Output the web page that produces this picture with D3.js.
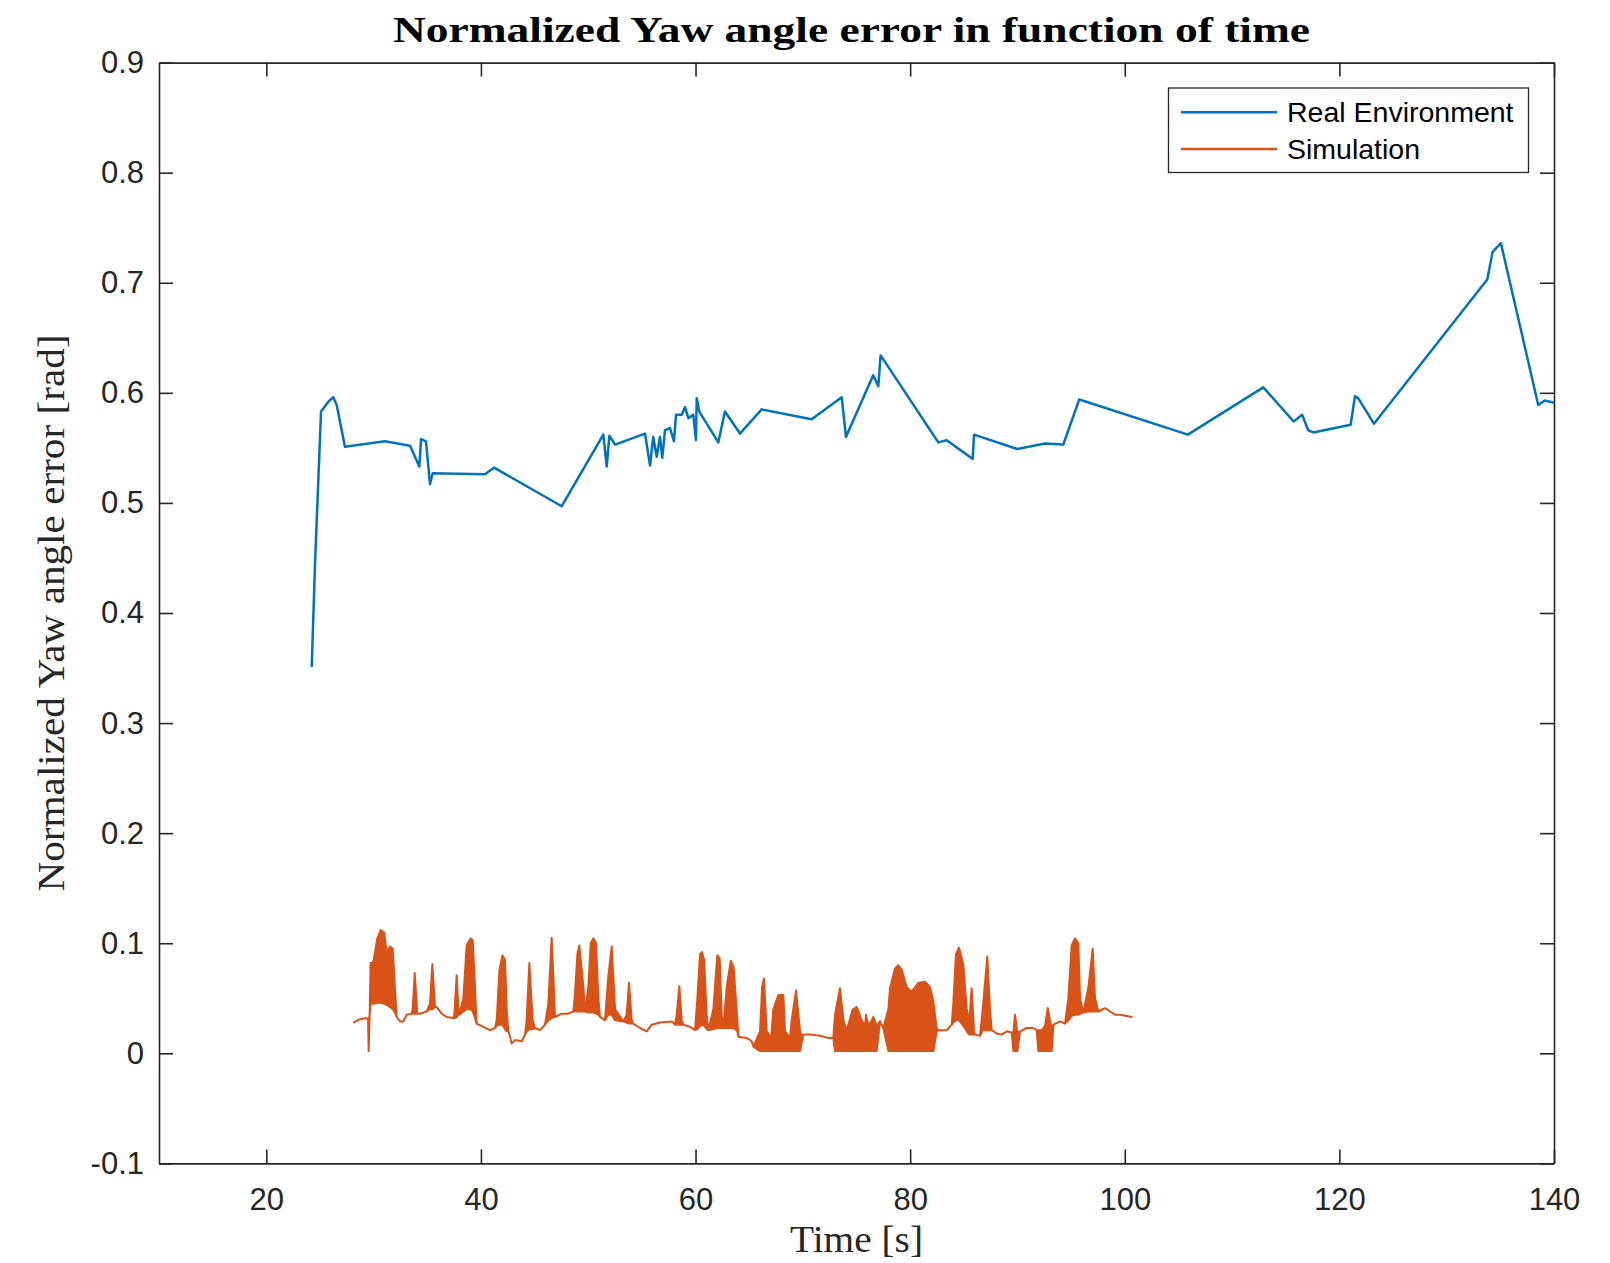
<!DOCTYPE html>
<html>
<head>
<meta charset="utf-8">
<script src="https://cdn.jsdelivr.net/npm/d3@7"></script>
<style>
  body { margin: 0; background: #fff; }
  svg { display: block; }
</style>
</head>
<body>
<svg id="chart"></svg>
<script>
// real run
const realTime = [24.23, 24.54, 25.10, 25.78, 26.24, 26.56, 27.33, 31.06, 33.39, 34.26, 34.42, 34.88, 35.25, 35.50,
  40.38, 41.22, 47.53, 51.41, 51.72, 51.97, 52.50, 55.29, 55.76, 56.06, 56.38, 56.69, 56.90, 57.15, 57.62, 57.99,
  58.18, 58.71, 59.02, 59.33, 59.79, 60.04, 60.11, 60.35, 62.12, 62.74, 64.14, 66.16, 70.82, 73.62, 74.02, 76.56,
  77.03, 77.25, 82.62, 83.40, 85.83, 85.95, 89.98, 92.57, 94.27, 95.76, 105.88, 112.91, 115.74, 116.53, 117.10,
  117.57, 121.05, 121.45, 121.76, 123.22, 133.78, 134.28, 135.05, 138.53, 139.15, 140.00]
const realError = [0.351, 0.445, 0.583, 0.592, 0.596, 0.589, 0.551, 0.556, 0.552, 0.533, 0.558, 0.556, 0.517, 0.527,
  0.526, 0.532, 0.497, 0.562, 0.533, 0.561, 0.553, 0.563, 0.534, 0.560, 0.542, 0.560, 0.541, 0.566, 0.568, 0.556,
  0.580, 0.580, 0.587, 0.577, 0.580, 0.557, 0.595, 0.583, 0.555, 0.583, 0.563, 0.585, 0.576, 0.596, 0.560, 0.616,
  0.606, 0.634, 0.555, 0.557, 0.540, 0.562, 0.549, 0.554, 0.553, 0.594, 0.562, 0.605, 0.574, 0.580, 0.566,
  0.564, 0.571, 0.597, 0.595, 0.572, 0.703, 0.728, 0.736, 0.589, 0.593, 0.591]

// simulation: fast oscillating signal, read as lower / upper envelope
const simTime = [28.17, 28.73, 29.35, 29.48, 29.54, 29.63, 29.72, 29.97, 30.35, 30.66, 30.97, 31.22, 31.53, 31.78,
  31.99, 32.15, 32.46, 32.77, 33.08, 33.55, 33.64, 33.83, 34.07, 34.32, 34.94, 35.25, 35.47, 35.72, 35.88, 36.34,
  36.81, 37.43, 37.52, 37.74, 37.90, 37.99, 38.36, 38.67, 39.04, 39.23, 39.45, 39.60, 40.22, 40.85, 41.31, 41.47,
  41.72, 42.00, 42.24, 42.40, 42.55, 42.87, 43.18, 43.80, 44.11, 44.26, 44.51, 44.82, 45.04, 45.51, 45.97, 46.28,
  46.59, 46.75, 46.90, 47.53, 48.15, 48.61, 48.77, 48.99, 49.17, 49.55, 49.70, 50.01, 50.23, 50.48, 50.73, 50.94,
  51.10, 51.56, 51.87, 52.19, 52.50, 53.27, 53.58, 53.80, 54.05, 54.20, 54.83, 55.45, 55.91, 56.69, 57.78, 58.09,
  58.24, 58.49, 58.71, 58.86, 59.49, 59.95, 60.17, 60.42, 60.60, 60.80, 61.04, 61.19, 61.66, 62.03, 62.25, 62.44,
  62.60, 62.90, 63.28, 63.55, 63.90, 63.99, 64.77, 65.23, 65.39, 66.01, 66.20, 66.38, 66.63, 67.05, 67.25, 67.72,
  68.18, 68.34, 68.80, 68.96, 69.36, 69.74, 69.89, 70.05, 70.67, 71.60, 72.38, 72.84, 73.00, 73.46, 73.78, 74.09,
  74.65, 75.02, 75.48, 75.79, 75.89, 76.11, 76.42, 76.57, 76.88, 77.19, 77.50, 77.97, 78.12, 78.59, 78.90, 79.21,
  79.68, 80.14, 80.76, 81.38, 81.85, 82.16, 82.47, 82.63, 83.40, 83.87, 84.02, 84.27, 84.55, 84.96, 85.27, 85.52,
  85.73, 85.95, 86.04, 86.51, 86.76, 87.19, 87.44, 87.60, 88.06, 88.53, 89.00, 89.46, 89.62, 89.77, 89.99, 90.24,
  90.86, 91.48, 91.79, 91.95, 92.26, 92.57, 92.82, 93.19, 93.35, 93.97, 94.43, 94.74, 95.05, 95.36, 95.67, 95.83,
  96.14, 96.61, 97.01, 97.23, 97.54, 98.16, 98.63, 99.09, 99.56, 100.18, 100.64]
const simLow = [0.028, 0.031, 0.032, 0.030, 0.002, 0.035, 0.045, 0.045, 0.046, 0.046, 0.045, 0.044, 0.042, 0.040,
  0.037, 0.033, 0.029, 0.029, 0.035, 0.036, 0.036, 0.036, 0.036, 0.036, 0.038, 0.040, 0.040, 0.042, 0.042, 0.036,
  0.033, 0.032, 0.032, 0.033, 0.035, 0.035, 0.038, 0.040, 0.040, 0.038, 0.032, 0.027, 0.024, 0.021, 0.023, 0.025,
  0.026, 0.026, 0.022, 0.020, 0.021, 0.009, 0.012, 0.011, 0.017, 0.020, 0.022, 0.022, 0.023, 0.021, 0.026, 0.030,
  0.032, 0.033, 0.033, 0.036, 0.036, 0.038, 0.038, 0.038, 0.038, 0.038, 0.038, 0.037, 0.037, 0.037, 0.036, 0.035,
  0.033, 0.030, 0.035, 0.035, 0.030, 0.029, 0.028, 0.027, 0.027, 0.027, 0.023, 0.020, 0.026, 0.028, 0.029, 0.026,
  0.026, 0.026, 0.026, 0.026, 0.024, 0.021, 0.022, 0.025, 0.026, 0.025, 0.022, 0.021, 0.022, 0.023, 0.023, 0.023,
  0.023, 0.023, 0.023, 0.023, 0.020, 0.015, 0.014, 0.011, 0.006, 0.002, 0.002, 0.002, 0.002, 0.002, 0.002, 0.002,
  0.002, 0.002, 0.002, 0.002, 0.002, 0.002, 0.010, 0.017, 0.017, 0.016, 0.014, 0.014, 0.002, 0.002, 0.002, 0.002,
  0.002, 0.002, 0.002, 0.002, 0.002, 0.002, 0.002, 0.002, 0.002, 0.029, 0.023, 0.002, 0.002, 0.002, 0.002, 0.002,
  0.002, 0.002, 0.002, 0.002, 0.002, 0.002, 0.020, 0.021, 0.021, 0.026, 0.028, 0.030, 0.030, 0.025, 0.020, 0.017,
  0.017, 0.017, 0.017, 0.016, 0.021, 0.021, 0.021, 0.021, 0.018, 0.017, 0.020, 0.019, 0.002, 0.002, 0.002, 0.020,
  0.023, 0.023, 0.021, 0.002, 0.002, 0.002, 0.002, 0.002, 0.026, 0.029, 0.027, 0.030, 0.034, 0.035, 0.035, 0.036,
  0.037, 0.038, 0.038, 0.038, 0.038, 0.041, 0.038, 0.035, 0.035, 0.034, 0.033]
const simHigh = [0.028, 0.031, 0.032, 0.030, 0.030, 0.035, 0.082, 0.083, 0.1045, 0.112, 0.110, 0.092, 0.097, 0.095,
  0.059, 0.033, 0.029, 0.029, 0.035, 0.036, 0.040, 0.073, 0.036, 0.036, 0.038, 0.045, 0.081, 0.042, 0.042, 0.036,
  0.033, 0.032, 0.035, 0.071, 0.040, 0.035, 0.050, 0.098, 0.1045, 0.103, 0.060, 0.027, 0.024, 0.021, 0.023, 0.030,
  0.075, 0.089, 0.085, 0.040, 0.021, 0.009, 0.012, 0.011, 0.017, 0.030, 0.082, 0.030, 0.023, 0.021, 0.026, 0.045,
  0.105, 0.070, 0.033, 0.036, 0.036, 0.038, 0.055, 0.090, 0.098, 0.060, 0.038, 0.060, 0.100, 0.1045, 0.100, 0.050,
  0.033, 0.030, 0.070, 0.097, 0.040, 0.029, 0.035, 0.064, 0.030, 0.027, 0.023, 0.020, 0.026, 0.028, 0.029, 0.026,
  0.035, 0.061, 0.030, 0.026, 0.024, 0.021, 0.050, 0.090, 0.092, 0.085, 0.035, 0.021, 0.040, 0.089, 0.086, 0.035,
  0.023, 0.060, 0.084, 0.078, 0.030, 0.015, 0.014, 0.011, 0.006, 0.020, 0.060, 0.068, 0.020, 0.014, 0.040, 0.053,
  0.053, 0.020, 0.014, 0.030, 0.057, 0.020, 0.016, 0.017, 0.017, 0.016, 0.014, 0.014, 0.035, 0.059, 0.030, 0.021,
  0.040, 0.042, 0.030, 0.025, 0.035, 0.025, 0.030, 0.033, 0.025, 0.029, 0.023, 0.040, 0.059, 0.077, 0.080, 0.076,
  0.060, 0.056, 0.064, 0.065, 0.060, 0.047, 0.023, 0.021, 0.021, 0.026, 0.045, 0.090, 0.096, 0.080, 0.040, 0.030,
  0.059, 0.020, 0.017, 0.016, 0.040, 0.088, 0.040, 0.021, 0.018, 0.017, 0.020, 0.019, 0.019, 0.035, 0.019, 0.020,
  0.023, 0.023, 0.021, 0.021, 0.021, 0.025, 0.041, 0.022, 0.026, 0.029, 0.027, 0.050, 0.098, 0.1045, 0.100, 0.050,
  0.037, 0.060, 0.095, 0.050, 0.038, 0.041, 0.038, 0.035, 0.035, 0.034, 0.033]

const xTicks = [20, 40, 60, 80, 100, 120, 140]
const yTicks = [-0.1, 0, 0.1, 0.2, 0.3, 0.4, 0.5, 0.6, 0.7, 0.8, 0.9]
const seriesNames = ['Real Environment', 'Simulation']
const seriesColors = ['#0072BD', '#D95319']

const width = 1610
const height = 1263
const plot = { left: 159, right: 1554, top: 62.6, bottom: 1163.4 }
const tickLen = 14
const axisColor = '#262626'
const sansFont = '"Liberation Sans", Arial, Helvetica, sans-serif'
const serifFont = '"Liberation Serif", "Times New Roman", serif'

const svg = d3.select('#chart')
    .attr('width', width)
    .attr('height', height)

svg.append('rect')
    .attr('width', width)
    .attr('height', height)
    .attr('fill', '#fff')

const xScale = d3.scaleLinear().domain([10, 140]).range([plot.left, plot.right])
const yScale = d3.scaleLinear().domain([-0.1, 0.9]).range([plot.bottom, plot.top])

const fmt = d => String(+d.toFixed(1))

// axes, MATLAB style: ticks inside, box on
const xAxisBottom = d3.axisBottom(xScale).tickValues(xTicks).tickFormat(fmt)
    .tickSizeInner(-tickLen).tickSizeOuter(0).tickPadding(25)
const xAxisTop = d3.axisTop(xScale).tickValues(xTicks).tickFormat('')
    .tickSizeInner(-tickLen).tickSizeOuter(0)
const yAxisLeft = d3.axisLeft(yScale).tickValues(yTicks).tickFormat(fmt)
    .tickSizeInner(-tickLen).tickSizeOuter(0).tickPadding(15)
const yAxisRight = d3.axisRight(yScale).tickValues(yTicks).tickFormat('')
    .tickSizeInner(-tickLen).tickSizeOuter(0)

const axes = [
    [xAxisBottom, `translate(0, ${plot.bottom})`],
    [xAxisTop, `translate(0, ${plot.top})`],
    [yAxisLeft, `translate(${plot.left}, 0)`],
    [yAxisRight, `translate(${plot.right}, 0)`]
]
axes.forEach(([axisCall, transform]) => {
    const g = svg.append('g')
        .attr('transform', transform)
        .call(axisCall)
    g.selectAll('path, line')
        .attr('stroke', axisColor)
        .attr('stroke-width', 1.6)
    g.selectAll('text')
        .attr('fill', axisColor)
        .attr('font-family', sansFont)
        .attr('font-size', '31px')
})

// simulation: filled envelope of the fast oscillation
const simData = simTime.map((t, i) => ({ t, lo: simLow[i], hi: simHigh[i] }))
svg.append('path')
    .datum(simData)
    .attr('fill', seriesColors[1])
    .attr('stroke', seriesColors[1])
    .attr('stroke-width', 2)
    .attr('stroke-linejoin', 'round')
    .attr('d', d3.area()
        .x(d => xScale(d.t))
        .y0(d => yScale(d.lo))
        .y1(d => yScale(d.hi)))

// real environment
const realData = realTime.map((t, i) => ({ t, v: realError[i] }))
svg.append('path')
    .datum(realData)
    .attr('fill', 'none')
    .attr('stroke', seriesColors[0])
    .attr('stroke-width', 2.5)
    .attr('stroke-linejoin', 'round')
    .attr('d', d3.line()
        .x(d => xScale(d.t))
        .y(d => yScale(d.v)))

// title and axis labels
svg.append('text')
    .attr('x', 851.5)
    .attr('y', 42)
    .attr('text-anchor', 'middle')
    .attr('font-family', serifFont)
    .attr('font-weight', 'bold')
    .attr('font-size', '35px')
    .attr('fill', '#000')
    .attr('textLength', 917)
    .attr('lengthAdjust', 'spacingAndGlyphs')
    .text('Normalized Yaw angle error in function of time')

svg.append('text')
    .attr('x', (plot.left + plot.right) / 2)
    .attr('y', 1252)
    .attr('text-anchor', 'middle')
    .attr('font-family', serifFont)
    .attr('font-size', '38px')
    .attr('fill', axisColor)
    .attr('textLength', 133)
    .attr('lengthAdjust', 'spacingAndGlyphs')
    .text('Time [s]')

svg.append('text')
    .attr('transform', `translate(64, ${(plot.top + plot.bottom) / 2}) rotate(-90)`)
    .attr('text-anchor', 'middle')
    .attr('font-family', serifFont)
    .attr('font-size', '38px')
    .attr('fill', axisColor)
    .attr('textLength', 557)
    .attr('lengthAdjust', 'spacingAndGlyphs')
    .text('Normalized Yaw angle error [rad]')

// legend
const legend = svg.append('g')
legend.append('rect')
    .attr('x', 1168.5)
    .attr('y', 88)
    .attr('width', 360)
    .attr('height', 84.5)
    .attr('fill', '#fff')
    .attr('stroke', axisColor)
    .attr('stroke-width', 1.3)

seriesNames.forEach((name, i) => {
    const yPos = 112.3 + i * 36.8
    legend.append('line')
        .attr('x1', 1181)
        .attr('x2', 1277)
        .attr('y1', yPos)
        .attr('y2', yPos)
        .attr('stroke', seriesColors[i])
        .attr('stroke-width', 2.5)
    legend.append('text')
        .attr('x', 1287)
        .attr('y', yPos + 9.8)
        .attr('font-family', sansFont)
        .attr('font-size', '28.5px')
        .attr('fill', '#000')
        .text(name)
})
</script>
</body>
</html>
